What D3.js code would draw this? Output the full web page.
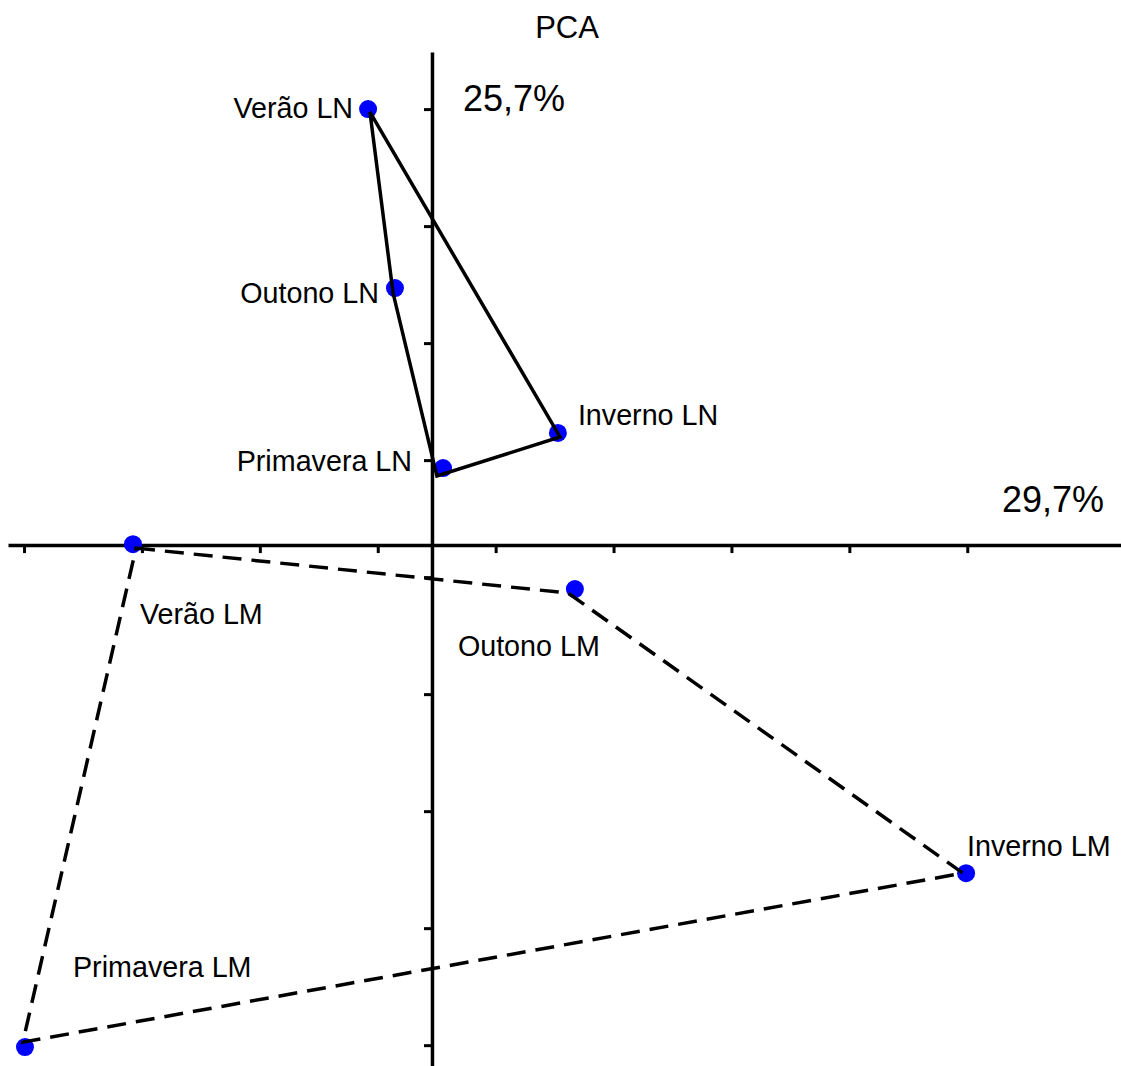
<!DOCTYPE html>
<html>
<head>
<meta charset="utf-8">
<script src="https://cdn.jsdelivr.net/npm/d3@7"></script>
<style>
  html, body { margin: 0; padding: 0; background: #fff; }
  svg { display: block; }
  text { font-family: "Liberation Sans", Arial, sans-serif; fill: #000; }
</style>
</head>
<body>
<script>
// PCA scores (axis 1 = x, axis 2 = y)
const pointNames = ["Verão LN", "Outono LN", "Inverno LN", "Primavera LN",
                    "Verão LM", "Outono LM", "Inverno LM", "Primavera LM"];
const pc1 = [-0.271, -0.157, 0.534, 0.047, -1.268, 0.606, 2.265, -1.726];
const pc2 = [1.863, 1.098, 0.479, 0.329, 0.004, -0.188, -1.402, -2.145];

// outline of each group, in drawing order (closed)
const outlineLN_x = [-0.263, -0.165, 0.021, 0.543];
const outlineLN_y = [1.850, 1.077, 0.295, 0.462];
const outlineLM_x = [-1.255, 0.577, 2.252, -1.735];
const outlineLM_y = [-0.013, -0.205, -1.402, -2.124];

// axis tick positions
const xTicks = [-1.73, -1.23, -0.73, -0.23, 0.27, 0.77, 1.27, 1.77, 2.27];
const yTicks = [1.863, 1.363, 0.863, 0.363, -0.137, -0.637, -1.137, -1.637, -2.137];

// explained variance of each axis
const axisLabels = ["29,7%", "25,7%"];
const title = "PCA";

const W = 1121, H = 1066;
const svg = d3.select("body").append("svg").attr("width", W).attr("height", H);

const x = d3.scaleLinear().domain([-1.798, 2.922]).range([8, 1121]);
const y = d3.scaleLinear().domain([-2.226, 2.107]).range([1066, 52]);

// axes crossing at the origin
const xAxis = svg.append("g")
  .attr("transform", `translate(0,${y(0)})`)
  .call(d3.axisBottom(x).tickValues(xTicks).tickSize(8).tickSizeOuter(0).tickFormat(""));
const yAxis = svg.append("g")
  .attr("transform", `translate(${x(0)},0)`)
  .call(d3.axisLeft(y).tickValues(yTicks).tickSize(8).tickSizeOuter(0).tickFormat(""));
[xAxis, yAxis].forEach(g => {
  g.select(".domain").attr("stroke", "#000").attr("stroke-width", 3.5);
  g.selectAll(".tick line").attr("stroke", "#000").attr("stroke-width", 3);
});

// points
const pts = pointNames.map((n, i) => ({ name: n, x: pc1[i], y: pc2[i] }));
svg.append("g").selectAll("circle").data(pts).join("circle")
  .attr("cx", d => x(d.x)).attr("cy", d => y(d.y)).attr("r", 9)
  .attr("fill", "#0000ff");

// group outlines
const line = d3.line().x(d => x(d[0])).y(d => y(d[1])).curve(d3.curveLinearClosed);
svg.append("path")
  .datum(outlineLN_x.map((v, i) => [v, outlineLN_y[i]]))
  .attr("d", line).attr("fill", "none").attr("stroke", "#000").attr("stroke-width", 3.5);
svg.append("path")
  .datum(outlineLM_x.map((v, i) => [v, outlineLM_y[i]]))
  .attr("d", line).attr("fill", "none").attr("stroke", "#000").attr("stroke-width", 3.5)
  .attr("stroke-dasharray", "19,10");

// point labels: [dx, dy, anchor] relative to each point
const labelOffsets = [
  [-15, 9, "end"], [-16, 15, "end"], [20, -8, "start"], [-31, 3, "end"],
  [7, 80, "start"], [-117, 67, "start"], [1, -17, "start"], [48, -70, "start"]
];
svg.append("g").selectAll("text").data(pts).join("text")
  .attr("x", (d, i) => x(d.x) + labelOffsets[i][0])
  .attr("y", (d, i) => y(d.y) + labelOffsets[i][1])
  .attr("text-anchor", (d, i) => labelOffsets[i][2])
  .attr("font-size", 28.7)
  .text(d => d.name);

// axis variance labels
svg.append("text").attr("x", 1002).attr("y", 512).attr("font-size", 36).text(axisLabels[0]);
svg.append("text").attr("x", 463).attr("y", 111).attr("font-size", 36).text(axisLabels[1]);

// title
svg.append("text").attr("x", 567).attr("y", 38).attr("text-anchor", "middle")
  .attr("font-size", 31).text(title);
</script>
</body>
</html>
